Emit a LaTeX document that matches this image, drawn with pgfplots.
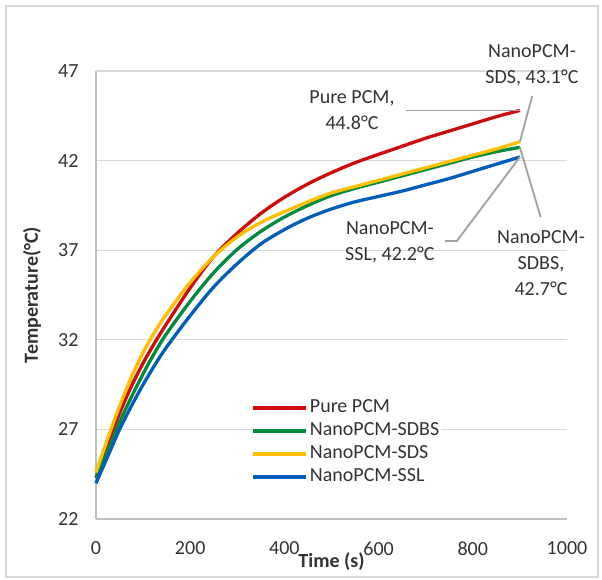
\documentclass[border=0pt]{standalone}
\usepackage{fontspec}
\setmainfont{Carlito}
\usepackage{pgfplots}
\pgfplotsset{compat=1.18}
\definecolor{cred}{RGB}{206,10,10}
\definecolor{cgreen}{RGB}{0,138,62}
\definecolor{cyellow}{RGB}{255,190,0}
\definecolor{cblue}{RGB}{0,94,184}
\definecolor{gridc}{RGB}{217,217,217}
\definecolor{axc}{RGB}{191,191,191}
\definecolor{leadc}{RGB}{160,160,160}
\newcommand{\fs}{\fontsize{20}{26}\selectfont}
\begin{document}
\begin{tikzpicture}
\begin{axis}[
  scale only axis, width=471pt, height=448pt,
  xmin=0, xmax=1000, ymin=22, ymax=47,
  xtick={0,200,...,1000}, ytick={22,27,...,47},
  axis lines*=left, axis line style={-, draw=axc, line width=1.3pt},
  major tick length=0pt,
  ymajorgrids, grid style={gridc, line width=1.3pt},
  /pgf/number format/assume math mode=true,
  /pgf/number format/set thousands separator={},
  ticklabel style={font=\fs, text=black!80},
  yticklabel style={xshift=-14pt},
  xticklabel style={yshift=-19pt},
  xlabel={\textbf{Time (s)}}, ylabel={\textbf{Temperature(°C)}},
  xlabel style={at={(rel axis cs:0.5,0)}, anchor=center, yshift=-43pt, font=\fs, text=black!80},
  ylabel style={at={(rel axis cs:-0.136,0.5)}, anchor=center, rotate=0, font=\fs, text=black!80},
  clip=false,
  legend style={at={(rel axis cs:0.33,0.274)}, anchor=north west, draw=none, fill=white, inner sep=0pt, font=\fs, row sep=0pt,
    nodes={inner sep=2pt, text height=14.5pt, text depth=4.5pt, text=black!80}},
  legend cell align=left,
  legend image code/.code={\draw[#1] (0pt,0pt) -- (53pt,0pt);},
  every axis plot/.append style={line width=3.3pt, line join=round, smooth, tension=0.5},
]
\addplot[cred] coordinates {(0,24.3) (25,26.2) (50,27.9) (75,29.4) (100,30.7) (125,31.85) (150,32.9) (200,34.9) (250,36.65) (300,37.95) (350,39.05) (400,39.95) (450,40.7) (500,41.33) (550,41.88) (600,42.35) (650,42.8) (700,43.25) (750,43.65) (800,44.05) (850,44.45) (900,44.8)};
\addlegendentry{Pure PCM}
\addplot[cgreen] coordinates {(0,24.3) (25,25.8) (50,27.4) (75,28.8) (100,30.1) (125,31.3) (150,32.35) (200,34.15) (250,35.75) (300,37.05) (350,38.05) (400,38.85) (450,39.5) (500,40.05) (550,40.45) (600,40.8) (650,41.15) (700,41.5) (750,41.85) (800,42.2) (850,42.5) (900,42.74)};
\addlegendentry{NanoPCM-SDBS}
\addplot[cyellow] coordinates {(0,24.6) (25,26.5) (50,28.3) (75,29.9) (100,31.3) (125,32.45) (150,33.45) (200,35.2) (250,36.65) (300,37.75) (350,38.55) (400,39.15) (450,39.7) (500,40.2) (550,40.55) (600,40.9) (650,41.25) (700,41.6) (750,41.95) (800,42.3) (850,42.65) (900,43.05)};
\addlegendentry{NanoPCM-SDS}
\addplot[cblue] coordinates {(0,24.0) (25,25.5) (50,27.0) (75,28.3) (100,29.5) (125,30.6) (150,31.6) (200,33.35) (250,34.95) (300,36.25) (350,37.35) (400,38.15) (450,38.8) (500,39.3) (550,39.7) (600,40.0) (650,40.3) (700,40.65) (750,41.0) (800,41.4) (850,41.8) (900,42.2)};
\addlegendentry{NanoPCM-SSL}
% leader lines
\draw[leadc, line width=1.8pt] (axis cs:658,44.8) -- (axis cs:900,44.8);
\draw[leadc, line width=1.8pt] (axis cs:926,45.6) -- (axis cs:900,43.05);
\draw[leadc, line width=1.8pt] (axis cs:944,38.85) -- (axis cs:900,42.74);
\draw[leadc, line width=1.8pt] (axis cs:741,37.51) -- (axis cs:766,37.51) -- (axis cs:900,42.2);
% labels
\node[align=center, font=\fs, text=black!80] at (axis cs:543.5,44.83) {Pure PCM,\\44.8°C};
\node[align=center, font=\fs, text=black!80] at (axis cs:925.7,47.33) {NanoPCM-\\SDS, 43.1°C};
\node[align=center, font=\fs, text=black!80] at (axis cs:944.8,36.29) {NanoPCM-\\SDBS,\\42.7°C};
\node[align=center, font=\fs, text=black!80] at (axis cs:624,37.43) {NanoPCM-\\SSL, 42.2°C};
\end{axis}
\draw[gridc, line width=1.5pt] (-90pt,-58pt) rectangle (502pt,513pt);
\path (-96pt,-60pt) rectangle (506pt,519pt);
\end{tikzpicture}
\end{document}
